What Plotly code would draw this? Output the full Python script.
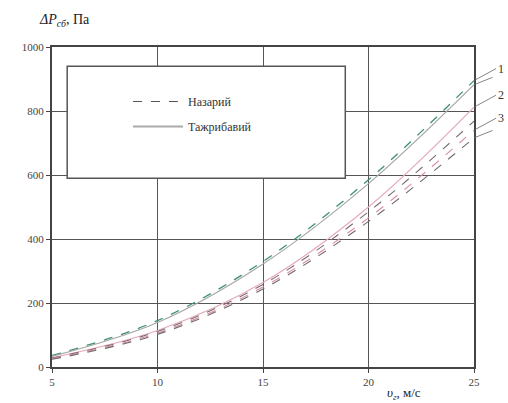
import plotly.graph_objects as go

x = [5, 10, 15, 20, 25]
c1_theor = [36, 145, 330, 585, 895]
c1_exp = [33, 139, 322, 573, 882]
c2_exp = [29, 114, 264, 500, 812]
c2_theor = [28, 111, 258, 485, 768]
c3_theor = [26, 106, 250, 466, 740]
c3_exp = [24, 102, 244, 455, 716]

xticks = [5, 10, 15, 20, 25]
yticks = [0, 200, 400, 600, 800, 1000]

FONT = "Liberation Serif"
fig = go.Figure()

series = [
    (c1_theor, "#3d8f73", "dash", 1.3),
    (c1_exp, "#a8a8a8", "solid", 1.2),
    (c2_exp, "#e6a9b8", "solid", 1.1),
    (c2_theor, "#7a6a70", "dash", 1.1),
    (c3_theor, "#d98d9e", "dash", 1.1),
    (c3_exp, "#6f6a6c", "dash", 1.1),
]
for ys, col, dash, w in series:
    fig.add_trace(go.Scatter(x=x, y=ys, mode="lines", line=dict(color=col, dash=dash, width=w, shape="spline"),
                             showlegend=False, hoverinfo="skip"))

# legend entries
fig.add_trace(go.Scatter(x=[None], y=[None], mode="lines", name="Назарий", legendgroup="a",
                         line=dict(color="#555555", dash="dash", width=1)))
fig.add_trace(go.Scatter(x=[None], y=[None], mode="lines", name="Тажрибавий", legendgroup="b",
                         line=dict(color="#aaaaaa", width=2)))

# leader labels
labels = [("1", c1_theor[-1], c1_exp[-1]), ("2", c2_exp[-1], c2_exp[-1]), ("3", c3_theor[-1], c3_exp[-1])]
for txt, ya, yb in labels:
    fig.add_annotation(x=25, y=ya, text=txt, showarrow=True, arrowhead=0, arrowwidth=0.8, arrowcolor="#666",
                       ax=22, ay=-12, xanchor="left", font=dict(family=FONT, size=12, color="#333"))
    if yb != ya:
        fig.add_annotation(x=25, y=yb, text="", showarrow=True, arrowhead=0, arrowwidth=0.8, arrowcolor="#666",
                           ax=20, ay=-8)

# legend box
fig.add_shape(type="rect", xref="paper", yref="paper", x0=0.036, x1=0.695, y0=0.59, y1=0.94,
              line=dict(color="#555", width=1.5), fillcolor="white", layer="above")

fig.add_annotation(xref="paper", yref="paper", x=-0.035, y=1.05, xanchor="left", yanchor="bottom",
                   text="<i>ΔP<sub>сб</sub></i>, Па", showarrow=False, font=dict(family=FONT, size=14, color="#222"))
fig.add_annotation(xref="paper", yref="paper", x=0.79, y=-0.05, xanchor="left", yanchor="top",
                   text="<i>υ<sub>г</sub></i>, м/с", showarrow=False, font=dict(family=FONT, size=13, color="#222"))

fig.update_layout(
    width=508, height=403,
    margin=dict(l=52, r=34, t=47, b=36),
    paper_bgcolor="white", plot_bgcolor="white",
    font=dict(family=FONT, size=11, color="#333"),
    legend=dict(x=0.18, y=0.875, xanchor="left", yanchor="top", bgcolor="rgba(0,0,0,0)",
                font=dict(family=FONT, size=12, color="#333"), tracegroupgap=6, itemwidth=50),
    xaxis=dict(range=[5, 25], tickvals=xticks, showgrid=True, gridcolor="#555", gridwidth=1,
               showline=True, linecolor="#444", linewidth=2, mirror=True, ticks="outside", ticklen=4,
               tickcolor="#444", zeroline=False, tickfont=dict(family=FONT, size=11, color="#444")),
    yaxis=dict(range=[0, 1000], tickvals=yticks, showgrid=True, gridcolor="#555", gridwidth=1,
               showline=True, linecolor="#444", linewidth=2, mirror=True, ticks="outside", ticklen=4,
               tickcolor="#444", zeroline=False, tickfont=dict(family=FONT, size=11, color="#444")),
)
fig.write_html("out.html")
